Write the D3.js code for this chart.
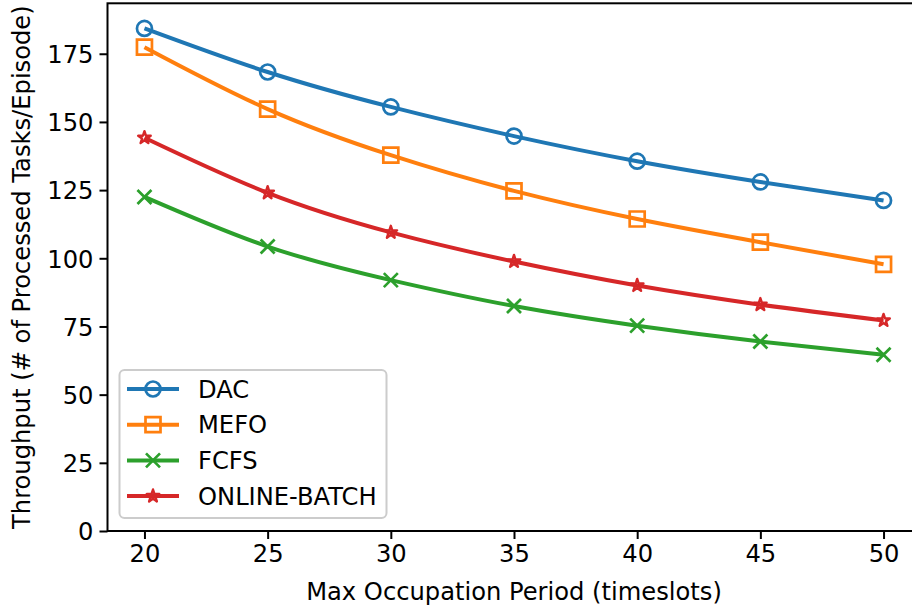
<!DOCTYPE html>
<html>
<head>
<meta charset="utf-8">
<script src="https://cdn.jsdelivr.net/npm/d3@7"></script>
<style>
  html, body { margin: 0; padding: 0; background: #fff; }
  svg { display: block; font-family: "DejaVu Sans", sans-serif; }
</style>
</head>
<body>
<svg id="chart" width="912" height="608"></svg>
<script>
// Throughput vs. max occupation period for four scheduling policies
const periods = [20, 25, 30, 35, 40, 45, 50];
const dacValues = [184.3, 168.3, 155.5, 144.8, 135.6, 128.0, 121.2];
const mefoValues = [177.4, 154.7, 137.8, 124.7, 114.4, 105.9, 97.8];
const fcfsValues = [122.5, 104.3, 92.0, 82.5, 75.3, 69.5, 64.6];
const onlineBatchValues = [144.2, 124.0, 109.5, 98.8, 90.0, 83.0, 77.2];
const seriesNames = ["DAC", "MEFO", "FCFS", "ONLINE-BATCH"];
const xTicks = [20, 25, 30, 35, 40, 45, 50];
const yTicks = [0, 25, 50, 75, 100, 125, 150, 175];

const seriesValues = [dacValues, mefoValues, fcfsValues, onlineBatchValues];
const colors = ["#1f77b4", "#ff7f0e", "#2ca02c", "#d62728"];
const markers = ["circle", "square", "cross", "star"];

const svg = d3.select("#chart");
const plotLeft = 107.5, plotRight = 920.5, plotTop = 3.3, plotBottom = 531;
const fontSize = 24.2;

const x = d3.scaleLinear().domain([18.5, 51.5]).range([plotLeft, plotRight]);
const y = d3.scaleLinear().domain([0, 193.5]).range([plotBottom, plotTop]);

// Marker shapes, centred at the origin, size ~16px
const R = 8;
function markerPath(kind) {
  if (kind === "circle") {
    const r = R - 0.5;
    return `M${-r},0A${r},${r} 0 1,0 ${r},0A${r},${r} 0 1,0 ${-r},0Z`;
  }
  if (kind === "square") {
    const s = R - 0.5;
    return `M${-s},${-s}H${s}V${s}H${-s}Z`;
  }
  if (kind === "cross") {
    const s = R - 1;
    return `M${-s},${-s}L${s},${s}M${-s},${s}L${s},${-s}`;
  }
  // five-point star
  const outer = 6.6, inner = outer * 0.381966;
  let p = "";
  for (let i = 0; i < 10; i++) {
    const r = i % 2 === 0 ? outer : inner;
    const a = -Math.PI / 2 + i * Math.PI / 5;
    p += (i === 0 ? "M" : "L") + (r * Math.cos(a)).toFixed(2) + "," + (r * Math.sin(a)).toFixed(2);
  }
  return p + "Z";
}

// Axes
const xAxis = d3.axisBottom(x).tickValues(xTicks).tickSize(8).tickPadding(6).tickFormat(d3.format("d"));
const yAxis = d3.axisLeft(y).tickValues(yTicks).tickSize(8).tickPadding(6).tickFormat(d3.format("d"));

const gx = svg.append("g").attr("transform", `translate(0,${plotBottom})`).call(xAxis);
const gy = svg.append("g").attr("transform", `translate(${plotLeft},0)`).call(yAxis);
[gx, gy].forEach(g => {
  g.select(".domain").remove();
  g.selectAll(".tick line").attr("stroke", "#000").attr("stroke-width", 2);
  g.selectAll(".tick text").attr("fill", "#000").style("font-size", fontSize + "px")
    .style("font-family", "DejaVu Sans");
});
gx.selectAll(".tick text").attr("dy", "0.71em");
gy.selectAll(".tick text").attr("dy", "0.36em");

// Series lines and markers
const line = d3.line().x(d => x(d[0])).y(d => y(d[1])).curve(d3.curveNatural);
function drawMarker(sel, kind, color) {
  sel.attr("d", markerPath(kind))
    .attr("fill", "none").attr("stroke", color)
    .attr("stroke-width", kind === "star" ? 2.4 : 2.7)
    .attr("stroke-linejoin", kind === "star" ? "round" : "miter");
}
seriesValues.forEach((vals, i) => {
  const pts = periods.map((p, j) => [p, vals[j]]);
  const g = svg.append("g");
  g.append("path").attr("d", line(pts)).attr("fill", "none")
    .attr("stroke", colors[i]).attr("stroke-width", 4).attr("stroke-linejoin", "round");
  g.selectAll("path.mk").data(pts).join("path").attr("class", "mk")
    .attr("transform", d => `translate(${x(d[0])},${y(d[1])})`)
    .call(drawMarker, markers[i], colors[i]);
});

// Frame
svg.append("rect").attr("x", plotLeft).attr("y", plotTop)
  .attr("width", plotRight - plotLeft).attr("height", plotBottom - plotTop)
  .attr("fill", "none").attr("stroke", "#000").attr("stroke-width", 2);

// Legend
const lg = svg.append("g");
lg.append("rect").attr("x", 119.5).attr("y", 370).attr("width", 267).attr("height", 148)
  .attr("rx", 5).attr("ry", 5).attr("fill", "#fff").attr("fill-opacity", 0.8)
  .attr("stroke", "#cccccc").attr("stroke-width", 2);
seriesNames.forEach((name, i) => {
  const cy = 389 + i * 35.7;
  lg.append("line").attr("x1", 127).attr("x2", 179).attr("y1", cy).attr("y2", cy)
    .attr("stroke", colors[i]).attr("stroke-width", 4);
  lg.append("path").attr("transform", `translate(153,${cy})`).call(drawMarker, markers[i], colors[i]);
  lg.append("text").attr("x", 198).attr("y", cy).attr("dy", "0.36em")
    .style("font-size", fontSize + "px").attr("fill", "#000").text(name);
});

// Axis titles
svg.append("text").attr("x", (plotLeft + plotRight) / 2).attr("y", 600).attr("text-anchor", "middle")
  .style("font-size", fontSize + "px").attr("fill", "#000").text("Max Occupation Period (timeslots)");
svg.append("text").attr("transform", `translate(30,${(plotTop + plotBottom) / 2}) rotate(-90)`)
  .attr("text-anchor", "middle").style("font-size", fontSize + "px").attr("fill", "#000")
  .text("Throughput (# of Processed Tasks/Episode)");
</script>
</body>
</html>
